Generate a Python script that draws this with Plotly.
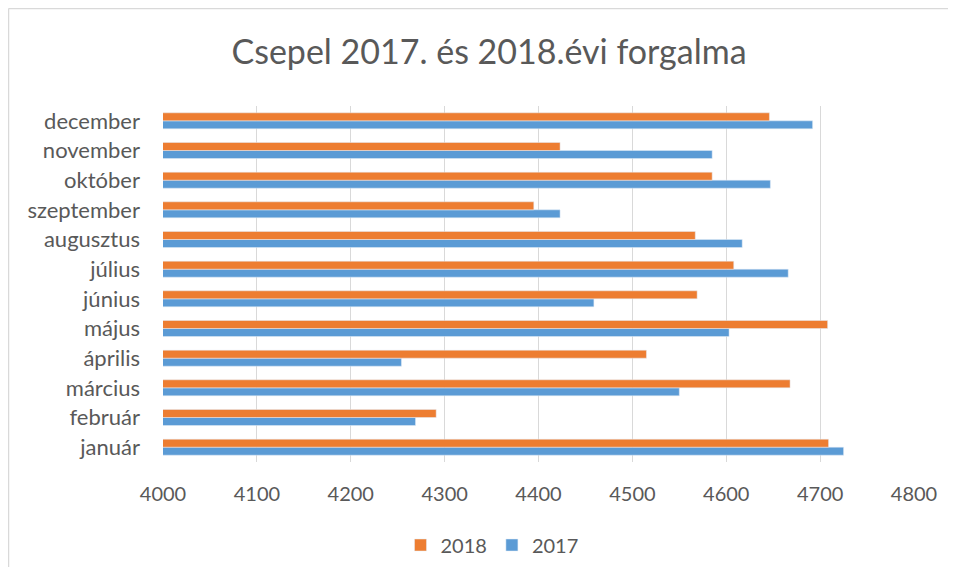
import plotly.graph_objects as go

months = ["január", "február", "március", "április", "május", "június",
          "július", "augusztus", "szeptember", "október", "november", "december"]
values_2017 = [4725, 4269, 4550, 4254, 4603, 4459, 4666, 4617, 4423, 4647, 4585, 4692]
values_2018 = [4709, 4291, 4668, 4515, 4708, 4569, 4608, 4567, 4395, 4585, 4423, 4646]
x_ticks = [4000, 4100, 4200, 4300, 4400, 4500, 4600, 4700, 4800]

BLUE = "#5B9BD5"
ORANGE = "#ED7D31"
TXT = "#595959"
FONT = "Lato, 'Open Sans', sans-serif"

fig = go.Figure()
fig.add_trace(go.Bar(y=months, x=values_2017, name="2017", orientation="h",
                     marker=dict(color=BLUE)))
fig.add_trace(go.Bar(y=months, x=values_2018, name="2018", orientation="h",
                     marker=dict(color=ORANGE)))

# page has an 8px body margin; figure coordinates are page - 8
W, H = 940, 559
L, R, T, B = 155, 34, 98, 105
pw, ph = W - L - R, H - T - B

fig.update_layout(
    width=W, height=H,
    margin=dict(l=L, r=R, t=T, b=B, autoexpand=False),
    paper_bgcolor="white", plot_bgcolor="white",
    barmode="group", bargap=0.46, bargroupgap=0,
    font=dict(family=FONT, color=TXT, size=20),
    title=dict(text="Csepel 2017. és 2018.évi forgalma", x=481 / W, xref="container",
               xanchor="center", y=1 - 44 / H, yref="container", yanchor="middle",
               font=dict(size=34, color=TXT, family=FONT)),
    legend=dict(orientation="h", traceorder="reversed", x=(484 - L) / pw, xanchor="center",
                y=(T + ph - 537) / ph, yanchor="middle", font=dict(size=20, color=TXT),
                itemwidth=30),
    showlegend=True,
)
fig.update_xaxes(range=[4000, 4800], tickvals=x_ticks, showgrid=True, gridcolor="#D9D9D9",
                 gridwidth=1, zeroline=False, showline=False, ticks="",
                 ticklabelstandoff=18, tickfont=dict(size=20, color=TXT))
fig.update_yaxes(showgrid=False, zeroline=False, showline=False, ticks="",
                 ticklabelstandoff=22, tickfont=dict(size=22, color=TXT))

# chart border (top and left edges visible)
bx = (0.5 - L) / pw
by = (T + ph - 0.5) / ph
fig.add_shape(type="line", xref="paper", yref="paper", x0=bx, x1=(W - L) / pw, y0=by, y1=by,
              line=dict(color="#D9D9D9", width=1.5))
fig.add_shape(type="line", xref="paper", yref="paper", x0=bx, x1=bx, y0=by, y1=(T + ph - H) / ph,
              line=dict(color="#D9D9D9", width=1.5))

fig.write_html("out.html")
